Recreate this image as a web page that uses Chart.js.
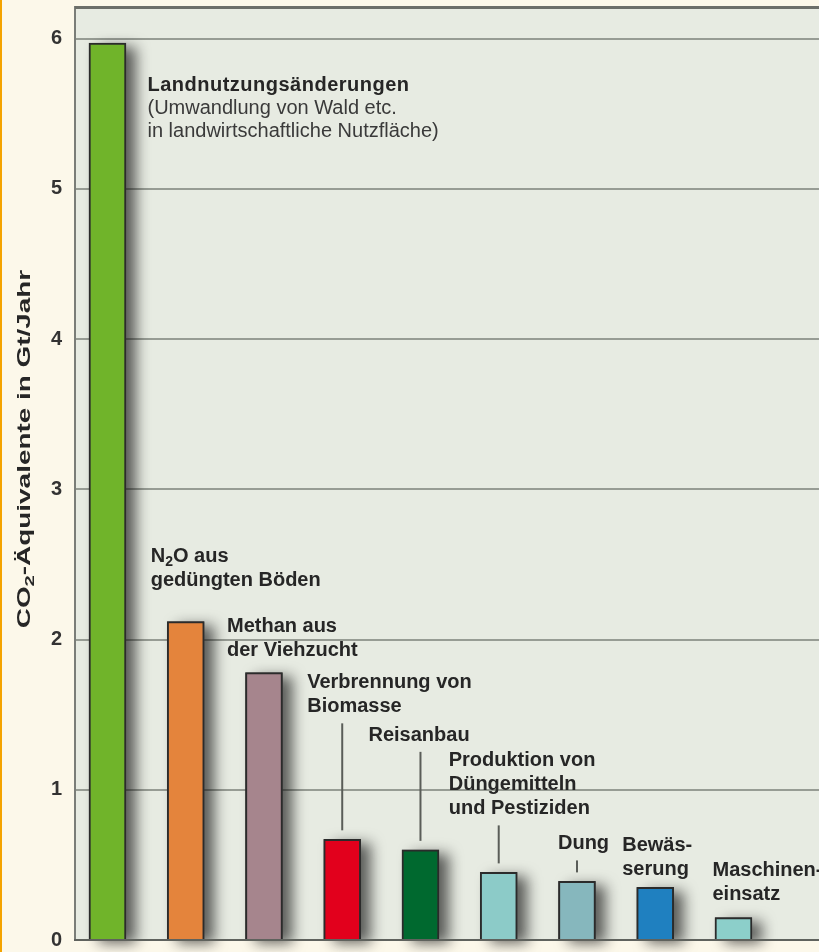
<!DOCTYPE html>
<html>
<head>
<meta charset="utf-8">
<script src="https://cdn.jsdelivr.net/npm/chart.js@4.4.0/dist/chart.umd.min.js"></script>
<style>
  html, body { margin: 0; padding: 0; background: #fcf8ea; }
  #wrap { width: 819px; height: 952px; }
</style>
</head>
<body>
<div id="wrap"><canvas id="chart" width="819" height="952"></canvas></div>
<script>
// Treibhausgasquellen der Landwirtschaft (CO2-Äquivalente in Gt/Jahr)
const categories = [
  "Landnutzungsänderungen", "N₂O aus gedüngten Böden", "Methan aus der Viehzucht",
  "Verbrennung von Biomasse", "Reisanbau", "Produktion von Düngemitteln und Pestiziden",
  "Dung", "Bewässerung", "Maschineneinsatz"
];
const values = [5.97, 2.12, 1.78, 0.67, 0.60, 0.45, 0.39, 0.35, 0.15];
const barColors = ["#70b42a", "#e4843c", "#a6858d", "#e2001c", "#00692f",
                   "#8ccbc8", "#86b7bd", "#1f80c0", "#8ccfca"];
const yTicks = [0, 1, 2, 3, 4, 5, 6];
const yTitle = "CO₂-Äquivalente in Gt/Jahr";

// Beschriftungen (fett) und Zusatzzeilen (normal)
const labelLines = [
  ["Landnutzungsänderungen"],
  ["N₂O aus", "gedüngten Böden"],
  ["Methan aus", "der Viehzucht"],
  ["Verbrennung von", "Biomasse"],
  ["Reisanbau"],
  ["Produktion von", "Düngemitteln", "und Pestiziden"],
  ["Dung"],
  ["Bewäs-", "serung"],
  ["Maschinen-", "einsatz"]
];
const noteLines = [
  ["(Umwandlung von Wald etc.", "in landwirtschaftliche Nutzfläche)"],
  [], [], [], [], [], [], [], []
];

// Lage der Beschriftung: dx zur Balkenmitte, dy der ersten Grundlinie zur Balkenoberkante
const labelPos = [[40, 48], [-35, -59], [-37, -41], [-35, -151], [-52, -109],
                  [-50, -106], [-19, -32], [-33, -36], [-21, -41]];
const hasLeader = [false, false, false, true, true, true, true, false, false];

const FONT = '"Liberation Sans", Arial, Helvetica, sans-serif';
const LINE_H = 24;

function richWidth(ctx, text, size, weight) {
  const parts = text.split("₂");
  let w = 0;
  parts.forEach((p, i) => {
    ctx.font = `${weight} ${size}px ${FONT}`;
    w += ctx.measureText(p).width;
    if (i < parts.length - 1) {
      ctx.font = `${weight} ${Math.round(size * 0.72)}px ${FONT}`;
      w += ctx.measureText("2").width;
    }
  });
  return w;
}

function drawRich(ctx, text, x, y, size, weight) {
  const parts = text.split("₂");
  let cx = x;
  parts.forEach((p, i) => {
    ctx.font = `${weight} ${size}px ${FONT}`;
    ctx.fillText(p, cx, y);
    cx += ctx.measureText(p).width;
    if (i < parts.length - 1) {
      ctx.font = `${weight} ${Math.round(size * 0.72)}px ${FONT}`;
      ctx.fillText("2", cx, y + size * 0.2);
      cx += ctx.measureText("2").width;
    }
  });
}

const decor = {
  id: "decor",
  beforeDraw(chart) {
    const { ctx, chartArea: a, width, height } = chart;
    ctx.save();
    ctx.fillStyle = "#fcf8ea";
    ctx.fillRect(0, 0, width, height);
    ctx.fillStyle = "#e7ebe2";
    ctx.fillRect(a.left, a.top, a.right - a.left, a.bottom - a.top);
    ctx.fillStyle = "#f4a300";
    ctx.fillRect(0, 0, 2, height);
    ctx.restore();
  },
  beforeDatasetsDraw(chart) {
    // Schlagschatten rechts der Balken (Chart.js clippt Schatten am Balken selbst)
    const ctx = chart.ctx;
    const meta = chart.getDatasetMeta(0);
    ctx.save();
    ctx.shadowColor = "rgba(15,15,15,0.65)";
    ctx.shadowBlur = 14;
    ctx.shadowOffsetX = 10;
    ctx.shadowOffsetY = 4;
    ctx.fillStyle = "#444";
    meta.data.forEach(bar => {
      const { x, y, base, width } = bar.getProps(["x", "y", "base", "width"], true);
      ctx.fillRect(x - width / 2, y, width, base - y);
    });
    ctx.restore();
  },
  afterDatasetsDraw(chart) {
    const { ctx, chartArea: a } = chart;
    ctx.save();
    // Rahmen oben und Grundlinie
    ctx.fillStyle = "#6c6f6a";
    ctx.fillRect(a.left, a.top - 1, a.right - a.left, 3);
    ctx.fillStyle = "#5f625d";
    ctx.fillRect(a.left - 1, a.bottom - 1, a.right - a.left + 1, 2);

    // Beschriftungen und Hinweislinien
    const meta = chart.getDatasetMeta(0);
    ctx.textBaseline = "alphabetic";
    ctx.textAlign = "left";
    meta.data.forEach((bar, i) => {
      const x0 = bar.x + labelPos[i][0];
      let y = bar.y + labelPos[i][1];
      ctx.fillStyle = "#262626";
      ctx.letterSpacing = i === 0 ? "0.5px" : "0px";
      labelLines[i].forEach(line => {
        drawRich(ctx, line, x0, y, 20, "bold");
        y += LINE_H;
      });
      ctx.letterSpacing = "0px";
      ctx.fillStyle = "#3a3a3a";
      noteLines[i].forEach(line => {
        drawRich(ctx, line, x0, y - 1, 20, "normal");
        y += LINE_H - 1;
      });
      if (hasLeader[i]) {
        const y1 = bar.y + labelPos[i][1] + (labelLines[i].length - 1) * LINE_H + 11;
        ctx.strokeStyle = "#5a5d58";
        ctx.lineWidth = 2;
        ctx.beginPath();
        ctx.moveTo(bar.x, y1);
        ctx.lineTo(bar.x, bar.y - 9);
        ctx.stroke();
      }
    });

    // Achsentitel (im Original gestreckt)
    const tw = richWidth(ctx, yTitle, 18, "bold");
    ctx.translate(30, 449);
    ctx.rotate(-Math.PI / 2);
    ctx.scale(1.55, 1);
    ctx.fillStyle = "#262626";
    drawRich(ctx, yTitle, -tw / 2, 0, 18, "bold");
    ctx.restore();
  }
};

new Chart(document.getElementById("chart"), {
  type: "bar",
  data: {
    datasets: [{
      label: "CO₂-Äquivalente",
      data: values.map((v, i) => ({ x: i, y: v })),
      backgroundColor: barColors,
      borderColor: "#2b2b2b",
      borderWidth: 2,
      barThickness: 37,
      clip: false
    }]
  },
  options: {
    responsive: false,
    devicePixelRatio: 1,
    animation: false,
    layout: { padding: { top: 7, bottom: 12, left: 0, right: 0 } },
    plugins: { legend: { display: false }, tooltip: { enabled: false } },
    scales: {
      x: { type: "linear", min: -0.415, max: 9.093, offset: false, display: false },
      y: {
        min: 0,
        max: 6.21,
        afterBuildTicks: s => { s.ticks = yTicks.map(v => ({ value: v })); },
        afterFit: s => { s.width = 75; s.paddingTop = 0; s.paddingBottom = 0; },
        border: { display: true, color: "#7a7d78", width: 2 },
        grid: { color: "#979c94", lineWidth: 2, drawTicks: false },
        ticks: {
          padding: 13,
          color: "#333",
          font: { family: FONT, weight: "bold", size: 20 }
        }
      }
    }
  },
  plugins: [decor]
});
</script>
</body>
</html>
